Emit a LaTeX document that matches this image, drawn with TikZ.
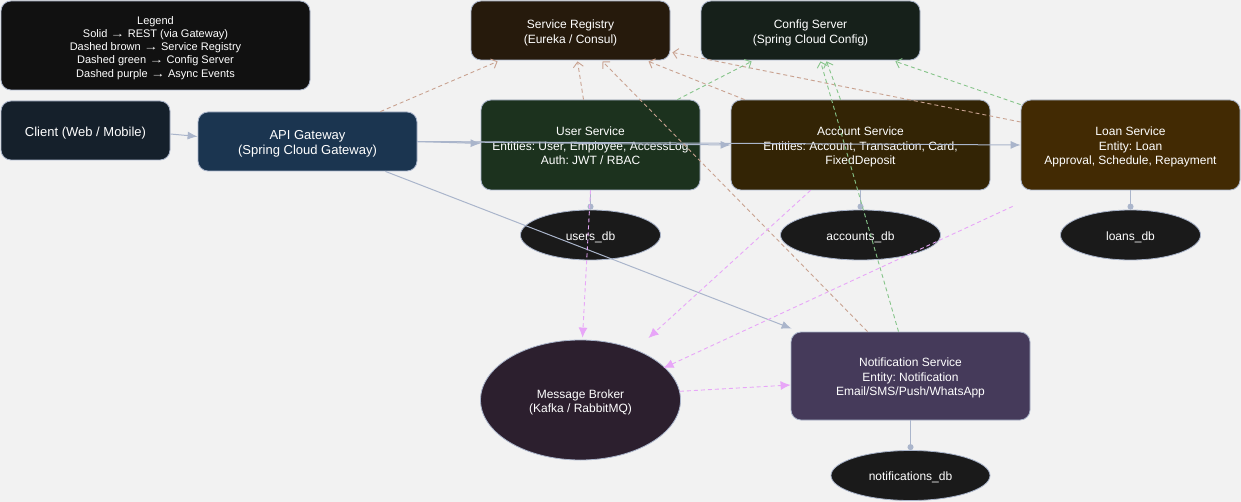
\documentclass[tikz,border=0pt]{standalone}
\usepackage{fontspec}
\setmainfont{Liberation Sans}
\usetikzlibrary{arrows.meta,shapes.geometric}
\frenchspacing
\definecolor{bgc}{HTML}{F2F2F2}
\definecolor{edgec}{HTML}{AAB5CB}
\definecolor{brownc}{HTML}{C9A290}
\definecolor{greenc}{HTML}{86C48A}
\definecolor{purplec}{HTML}{E8A6F8}
\definecolor{legc}{HTML}{111111}
\definecolor{clientc}{HTML}{15202B}
\definecolor{gwc}{HTML}{1B3550}
\definecolor{regc}{HTML}{261A0C}
\definecolor{cfgc}{HTML}{16201A}
\definecolor{userc}{HTML}{1C321E}
\definecolor{accc}{HTML}{332405}
\definecolor{loanc}{HTML}{422A03}
\definecolor{brokerc}{HTML}{2C1F2E}
\definecolor{notifc}{HTML}{453A5A}
\definecolor{dbc}{HTML}{1A1A1A}
\newcommand{\lowtext}[1]{\raisebox{-2.5pt}[\height][\depth]{\begin{tabular}{@{}c@{}}#1\end{tabular}}}
\newcommand{\rarr}{\scalebox{1.3}[1]{→}}
\begin{document}
\frenchspacing
\begin{tikzpicture}[x=1pt,y=-1pt,
  box/.style={draw=edgec, line width=0.8pt, rounded corners=10pt, text=white,
    font=\fontsize{12}{14.5}\selectfont\frenchspacing, inner sep=0pt},
  dbnode/.style={ellipse, draw=edgec, line width=0.8pt, fill=dbc, text=white,
    font=\fontsize{12}{14.5}\selectfont, inner sep=0pt},
  rest/.style={draw=edgec, line width=1pt, -{Latex[length=10pt,width=8pt]}},
  dblink/.style={draw=edgec, line width=1pt, -{Circle[length=6pt]}},
  regedge/.style={draw=brownc, line width=0.9pt, dash pattern=on 4pt off 3pt,
    -{Straight Barb[length=5pt,width=10pt,line width=0.9pt]}},
  cfgedge/.style={draw=greenc, line width=0.9pt, dash pattern=on 4pt off 3pt,
    -{Straight Barb[length=5pt,width=10pt,line width=0.9pt]}},
  asyncedge/.style={draw=purplec, line width=0.9pt, dash pattern=on 4pt off 3pt,
    -{Latex[length=10pt,width=9pt]}}
]
\useasboundingbox[fill=bgc] (0,0) rectangle (1241,502);

% nodes
\node[box, fill=legc, minimum width=309pt, minimum height=89pt,
  font=\fontsize{11}{13.2}\selectfont] (legend) at (155.5,45.5)
  {\lowtext{Legend\\Solid \rarr{} REST (via Gateway)\\Dashed brown \rarr{} Service Registry\\Dashed green \rarr{} Config Server\\Dashed purple \rarr{} Async Events}};
\node[box, fill=clientc, minimum width=169pt, minimum height=59pt, font=\fontsize{13}{15.5}\selectfont] (client) at (85.5,130.5) {\lowtext{Client (Web / Mobile)}};
\node[box, fill=gwc, minimum width=219pt, minimum height=59pt, font=\fontsize{13}{15.5}\selectfont] (gw) at (307.5,141.5) {\lowtext{API Gateway\\(Spring Cloud Gateway)}};
\node[box, fill=regc, minimum width=199pt, minimum height=59pt] (reg) at (570.5,30.5) {\lowtext{Service Registry\\(Eureka / Consul)}};
\node[box, fill=cfgc, minimum width=219pt, minimum height=59pt] (cfg) at (810.5,30.5) {\lowtext{Config Server\\(Spring Cloud Config)}};
\node[box, fill=userc, minimum width=219pt, minimum height=90pt] (user) at (590.5,145) {\lowtext{User Service\\Entities: User, Employee, AccessLog\\Auth: JWT / RBAC}};
\node[box, fill=accc, minimum width=259pt, minimum height=90pt] (acc) at (860.5,145) {\lowtext{Account Service\\Entities: Account, Transaction, Card,\\FixedDeposit}};
\node[box, fill=loanc, minimum width=219pt, minimum height=90pt] (loan) at (1130.5,145) {\lowtext{Loan Service\\Entity: Loan\\Approval, Schedule, Repayment}};
\node[box, fill=notifc, minimum width=239pt, minimum height=88pt] (notif) at (910.5,376) {\lowtext{Notification Service\\Entity: Notification\\Email/SMS/Push/WhatsApp}};
\node[dbnode, fill=brokerc, minimum width=200pt, minimum height=120pt] (broker) at (580.5,400) {\lowtext{Message Broker\\(Kafka / RabbitMQ)}};
\node[dbnode, minimum width=140pt, minimum height=50pt] (udb) at (590.5,235) {\lowtext{users\_db}};
\node[dbnode, minimum width=160pt, minimum height=50pt] (adb) at (860.5,235) {\lowtext{accounts\_db}};
\node[dbnode, minimum width=140pt, minimum height=50pt] (ldb) at (1130.5,235) {\lowtext{loans\_db}};
\node[dbnode, minimum width=159pt, minimum height=50pt] (ndb) at (910.5,475.5) {\lowtext{notifications\_db}};
\coordinate (loanfree) at ([xshift=-8pt,yshift=-16pt]loan.south west);

% REST
\draw[rest] ([yshift=-3.5pt]client.east) -- ([yshift=5pt]gw.west);
\draw[rest] (gw.east) -- ([yshift=1.5pt]user.west);
\draw[rest] (gw.east) -- (acc.west);
\draw[rest] (gw.east) -- (loan.west);
\draw[rest] ([xshift=-32pt]gw.south east) -- ([xshift=1pt,yshift=3pt]notif.north west);

% DB links
\draw[dblink] (user.south) -- (udb.north);
\draw[dblink] (acc.south) -- (adb.north);
\draw[dblink] (loan.south) -- (ldb.north);
\draw[dblink] (notif.south) -- (ndb.north);

% registry
\draw[regedge] ([xshift=-37pt]gw.north east) -- ([xshift=27pt,yshift=-1pt]reg.south west);
\draw[regedge] ([xshift=-7pt]user.north) -- ([xshift=7pt,yshift=-1pt]reg.south);
\draw[regedge] ([xshift=14pt]acc.north west) -- ([xshift=78pt,yshift=-1pt]reg.south);
\draw[regedge] ([yshift=23pt]loan.west) -- ([xshift=2pt,yshift=8pt]reg.south east);
\draw[regedge] ([xshift=-43pt]notif.north) -- ([xshift=32pt,yshift=-1pt]reg.south);

% config
\draw[cfgedge] ([xshift=-23pt]user.north east) -- ([xshift=51pt,yshift=-1pt]cfg.south west);
\draw[cfgedge] ([xshift=-20pt]acc.north) -- ([xshift=16pt,yshift=-1pt]cfg.south);
\draw[cfgedge] ([xshift=-12pt]notif.north) -- ([xshift=10pt,yshift=-1pt]cfg.south);
\draw[cfgedge] ([yshift=-5pt]loan.north west) -- ([xshift=-25pt,yshift=-1pt]cfg.south east);

% async
\draw[asyncedge] (user.south) -- ([xshift=2pt,yshift=2pt]broker.north);
\draw[asyncedge] ([xshift=-50pt]acc.south) -- ([xshift=68pt,yshift=62pt]broker.center);
\draw[asyncedge] (loanfree) -- ([xshift=83pt,yshift=32pt]broker.center);
\draw[asyncedge] (broker.5) -- ([yshift=-9pt]notif.west);
\end{tikzpicture}
\end{document}
